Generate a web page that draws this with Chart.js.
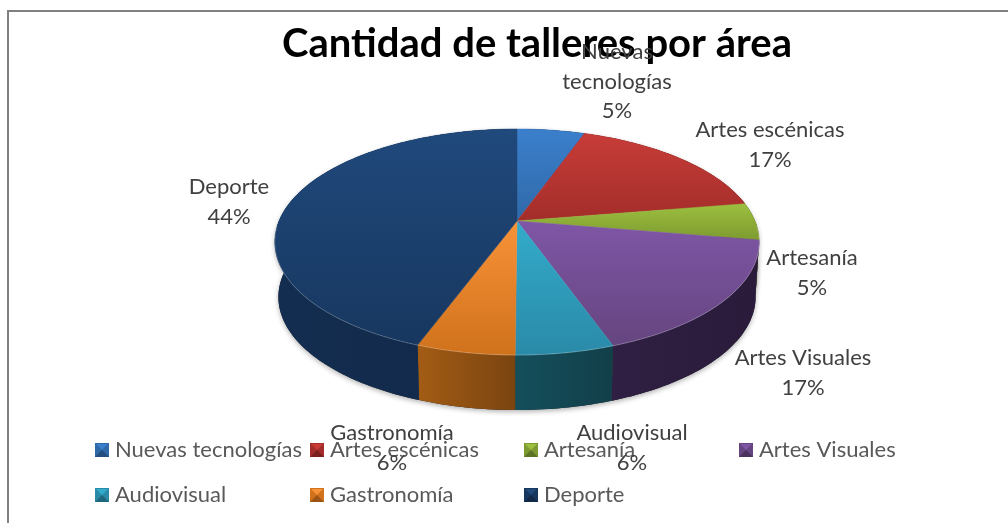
<!DOCTYPE html>
<html lang="es">
<head>
<meta charset="utf-8">
<title>Cantidad de talleres por área</title>
<script src="https://cdn.jsdelivr.net/npm/chart.js@4"></script>
<style>
    html, body { margin: 0; padding: 0; background: #fff; overflow: hidden; }
    canvas { display: block; }
</style>
</head>
<body>
<canvas id="talleres-chart" width="1008" height="523"></canvas>
<script>
const categories = ['Nuevas tecnologías', 'Artes escénicas', 'Artesanía', 'Artes Visuales', 'Audiovisual', 'Gastronomía', 'Deporte'];
const percents = [5.4, 17.0, 5.3, 16.9, 5.5, 5.5, 44.4];

// colores: superior claro, superior oscuro, pared izquierda, pared derecha
const topLight = ['#3b7fcc', '#c83c38', '#9dbf40', '#7f56a6', '#33abcb', '#f89238', '#20497c'];
const topDark = ['#2f69a8', '#a32d2a', '#7d9b30', '#65457f', '#2a8aa8', '#d0721c', '#17375f'];
const wallLeft = ['#1d3f68', '#6e1f1d', '#556a20', '#2f1f42', '#144f5c', '#a35c14', '#132d50'];
const wallRight = ['#1d3f68', '#6e1f1d', '#556a20', '#2a1b3b', '#123f49', '#7a4410', '#122a4a'];

const FONT = 'Lato, "Open Sans", sans-serif';

// Geometria del pastel en perspectiva
const APEX_X = 517, APEX_Y = 221;
const RX = 238, RY = 109.1, PERSP = -0.186;
const WALL = 55, WALL_SCALE = 0.985;

// Posicion de las etiquetas de datos (centro de cada linea)
const labelLines = [['Nuevas', 'tecnologías'], ['Artes escénicas'], ['Artesanía'], ['Artes Visuales'], ['Audiovisual'], ['Gastronomía'], ['Deporte']];
const labelX = [617, 770, 812, 803, 632, 392, 229];
const labelY = [52, 130, 258, 358, 433, 433, 187];
const LINE_H = 29.5;

// Leyenda en dos filas
const legendCol = [95, 310, 524, 739, 95, 310, 524];
const legendRow = [443, 443, 443, 443, 488, 488, 488];

function project(angle, wall) {
    // angle en radianes como lo entrega ArcElement
    const u = Math.cos(angle), v = Math.sin(angle);
    const d = 1 + PERSP * v;
    const dx = RX * u / d, dy = RY * v / d;
    if (wall) return [APEX_X + dx * WALL_SCALE, APEX_Y + dy + WALL];
    return [APEX_X + dx, APEX_Y + dy];
}

function rimPoints(start, end, wall) {
    const pts = [];
    const n = Math.max(4, Math.ceil((end - start) / 0.02));
    for (let i = 0; i <= n; i++) {
        pts.push(project(start + (end - start) * i / n, wall));
    }
    return pts;
}

function tracePath(ctx, pts) {
    ctx.beginPath();
    pts.forEach(function(p, i) {
        if (i === 0) ctx.moveTo(p[0], p[1]); else ctx.lineTo(p[0], p[1]);
    });
    ctx.closePath();
}

const pie3d = {
    id: 'pie3d',
    beforeDatasetsDraw(chart) {
        const ctx = chart.ctx;
        const arcs = chart.getDatasetMeta(0).data;

        // paredes laterales con sombra suave
        ctx.save();
        arcs.forEach(function(arc) {
            const upper = rimPoints(arc.startAngle, arc.endAngle, false);
            const lower = rimPoints(arc.startAngle, arc.endAngle, true).reverse();
            const pts = upper.concat(lower);
            tracePath(ctx, pts);
            ctx.shadowColor = 'rgba(0,0,0,0.3)';
            ctx.shadowBlur = 5;
            ctx.shadowOffsetY = 2;
            ctx.fillStyle = '#222';
            ctx.fill();
        });
        ctx.restore();
        arcs.forEach(function(arc, i) {
            const upper = rimPoints(arc.startAngle, arc.endAngle, false);
            const lower = rimPoints(arc.startAngle, arc.endAngle, true).reverse();
            const pts = upper.concat(lower);
            const xs = pts.map(function(p) { return p[0]; });
            const g = ctx.createLinearGradient(Math.min.apply(null, xs), 0, Math.max.apply(null, xs), 0);
            g.addColorStop(0, wallLeft[i]);
            g.addColorStop(1, wallRight[i]);
            tracePath(ctx, pts);
            ctx.fillStyle = g;
            ctx.fill();
        });

        // caras superiores
        arcs.forEach(function(arc, i) {
            const pts = [[APEX_X, APEX_Y]].concat(rimPoints(arc.startAngle, arc.endAngle, false));
            const ys = pts.map(function(p) { return p[1]; });
            const g = ctx.createLinearGradient(0, Math.min.apply(null, ys), 0, Math.max.apply(null, ys));
            g.addColorStop(0, topLight[i]);
            g.addColorStop(1, topDark[i]);
            tracePath(ctx, pts);
            ctx.fillStyle = g;
            ctx.fill();
            ctx.strokeStyle = g;
            ctx.lineWidth = 0.5;
            ctx.stroke();
        });

        // brillo en el borde frontal
        ctx.save();
        ctx.strokeStyle = 'rgba(255,255,255,0.22)';
        ctx.lineWidth = 1;
        ctx.beginPath();
        rimPoints(0.05, Math.PI - 0.05, false).forEach(function(p, i) {
            if (i === 0) ctx.moveTo(p[0], p[1]); else ctx.lineTo(p[0], p[1]);
        });
        ctx.stroke();
        ctx.restore();
        return false; // el pastel ya esta dibujado
    },
    afterDraw(chart) {
        const ctx = chart.ctx;
        ctx.save();

        // marco del grafico
        ctx.strokeStyle = '#808080';
        ctx.lineWidth = 2;
        ctx.beginPath();
        ctx.moveTo(8, 523);
        ctx.lineTo(8, 11);
        ctx.lineTo(1008, 11);
        ctx.stroke();

        // leyenda
        ctx.textAlign = 'left';
        ctx.textBaseline = 'middle';
        ctx.font = '22px ' + FONT;
        categories.forEach(function(name, i) {
            const x = legendCol[i], y = legendRow[i], s = 14;
            ctx.fillStyle = topDark[i];
            ctx.fillRect(x, y, s, s);
            ctx.fillStyle = 'rgba(0,0,0,0.25)';
            ctx.beginPath();
            ctx.moveTo(x, y + s);
            ctx.lineTo(x + s, y + s);
            ctx.lineTo(x + s / 2, y + s / 2);
            ctx.closePath();
            ctx.fill();
            ctx.fillStyle = topLight[i];
            ctx.beginPath();
            ctx.moveTo(x + 1, y + 1);
            ctx.lineTo(x + s - 1, y + 1);
            ctx.lineTo(x + s / 2, y + s / 2);
            ctx.closePath();
            ctx.fill();
            ctx.fillStyle = '#595959';
            ctx.fillText(name, x + 20, y + 7);
        });

        // etiquetas de datos
        ctx.textAlign = 'center';
        ctx.fillStyle = '#404040';
        categories.forEach(function(name, i) {
            const lines = labelLines[i].concat([Math.round(percents[i]) + '%']);
            lines.forEach(function(line, k) {
                ctx.fillText(line, labelX[i], labelY[i] + k * LINE_H);
            });
        });
        ctx.restore();
    }
};

new Chart(document.getElementById('talleres-chart'), {
    type: 'pie',
    data: {
        labels: categories,
        datasets: [{ data: percents, backgroundColor: topLight, borderWidth: 0 }]
    },
    options: {
        responsive: false,
        animation: false,
        layout: { padding: { left: 66, top: 0 } },
        plugins: {
            legend: { display: false },
            tooltip: { enabled: false },
            title: {
                display: true,
                text: 'Cantidad de talleres por área',
                color: '#000',
                font: { family: FONT, size: 40, weight: 'bold' },
                padding: { top: 20, bottom: 10 }
            }
        }
    },
    plugins: [pie3d]
});
</script>
</body>
</html>
